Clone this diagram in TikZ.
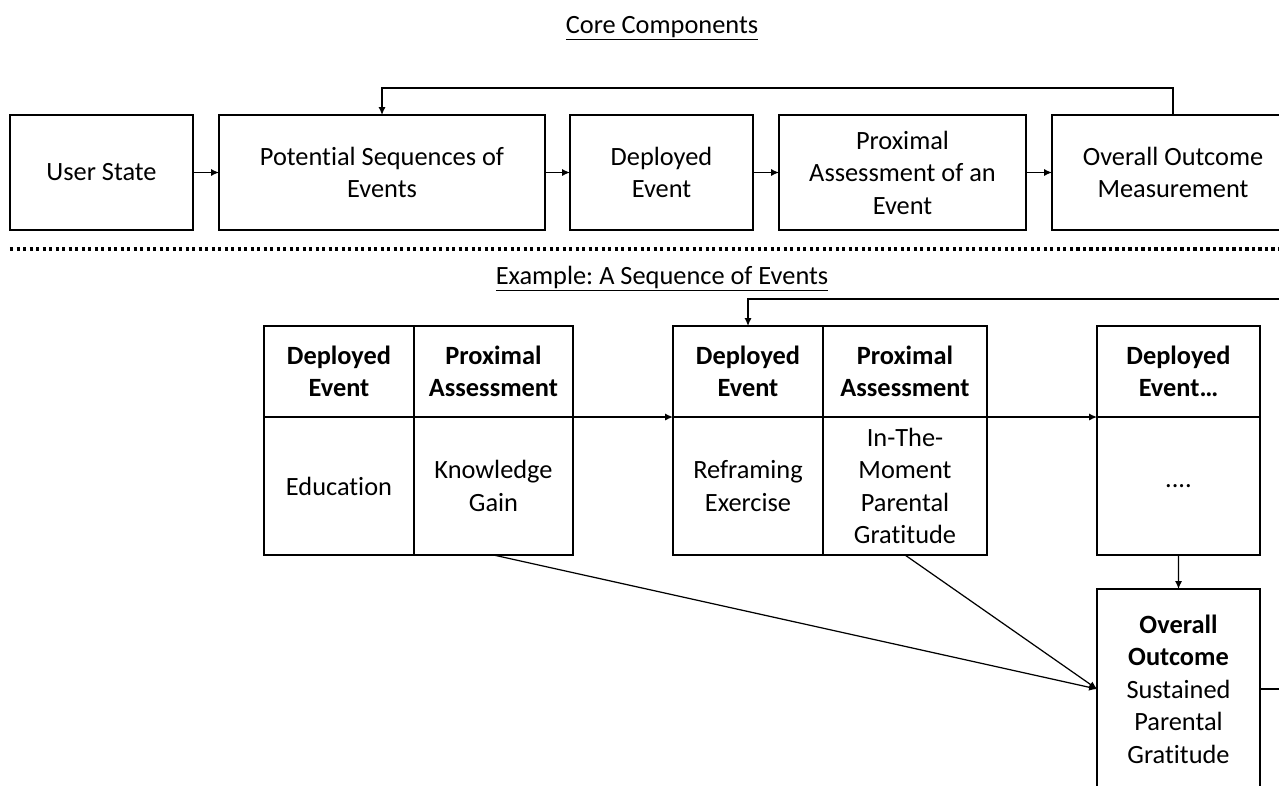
\documentclass[tikz,border=0pt]{standalone}
\usepackage{fontspec}
\setmainfont{Carlito}[RawFeature=-liga]
\usetikzlibrary{arrows.meta}
\frenchspacing

\begin{document}
\begin{tikzpicture}[
  font=\fontsize{15}{18.5}\selectfont,
  box/.style={draw, line width=0.8pt, align=center, inner sep=0pt, outer sep=0pt},
  hd/.style={box, font=\fontsize{15}{18.5}\selectfont\bfseries},
  link/.style={line width=0.7pt, -{Latex[length=4.5pt,width=4pt]}}
]
\useasboundingbox (0,0) rectangle (25.58,-15.7);

\node[anchor=base] (core) at (13.24,-0.66) {\underline{Core Components}};

\node[box, minimum width=3.66cm, minimum height=2.3cm] (usr) at (2.03,-3.45) {User State};
\node[box, minimum width=6.52cm, minimum height=2.3cm] (seq) at (7.64,-3.45) {Potential Sequences of\\Events};
\node[box, minimum width=3.66cm, minimum height=2.3cm] (dep) at (13.23,-3.45) {Deployed\\Event};
\node[box, minimum width=4.94cm, minimum height=2.3cm] (prox) at (18.05,-3.45) {Proximal\\Assessment of an\\Event};
\node[box, minimum width=4.84cm, minimum height=2.3cm] (outc) at (23.46,-3.45) {Overall Outcome\\Measurement};

\foreach \a/\b in {usr/seq, seq/dep, dep/prox, prox/outc}
  \draw[link] (\a) -- (\b);
\coordinate (loop) at (23.46,-1.76);
\draw[link] (outc.north) -- (loop) -| (seq.north);

\draw[line width=1.8pt, dash pattern=on 1.8pt off 1.9pt] (0.2,-4.98) -- (25.58,-4.98);

\node[anchor=base] (exm) at (13.24,-5.68) {\underline{Example: A Sequence of Events}};

% first event
\node[hd, anchor=north west, minimum width=3cm, minimum height=1.82cm] (ev1) at (5.28,-6.52) {Deployed\\Event};
\node[hd, anchor=north west, minimum width=3.18cm, minimum height=1.82cm] (pa1) at (ev1.north east) {Proximal\\Assessment};
\node[box, anchor=north west, minimum width=3cm, minimum height=2.76cm] (ev1b) at (ev1.south west) {Education};
\node[box, anchor=north west, minimum width=3.18cm, minimum height=2.76cm] (pa1b) at (ev1b.north east) {Knowledge\\Gain};

% second event
\node[hd, anchor=north west, minimum width=3cm, minimum height=1.82cm] (ev2) at (13.46,-6.52) {Deployed\\Event};
\node[hd, anchor=north west, minimum width=3.28cm, minimum height=1.82cm] (pa2) at (ev2.north east) {Proximal\\Assessment};
\node[box, anchor=north west, minimum width=3cm, minimum height=2.76cm] (ev2b) at (ev2.south west) {Reframing\\Exercise};
\node[box, anchor=north west, minimum width=3.28cm, minimum height=2.76cm] (pa2b) at (ev2b.north east) {In-The-\\Moment\\Parental\\Gratitude};

% next events
\node[hd, anchor=north west, minimum width=3.26cm, minimum height=1.82cm] (ev3) at (21.94,-6.52) {Deployed\\Event…};
\node[box, anchor=north west, minimum width=3.26cm, minimum height=2.76cm] (ev3b) at (ev3.south west) {....};

\node[box, anchor=north, minimum width=3.26cm, minimum height=4cm] (fin) at (23.57,-11.78)
  {\textbf{Overall}\\\textbf{Outcome}\\Sustained\\Parental\\Gratitude};

\draw[link] (pa1.south east) -- (ev2.south west);
\draw[link] (pa2.south east) -- (ev3.south west);
\draw[link] (ev3b) -- (fin);
\draw[link] (pa1b.south) -- (fin.west);
\draw[link] (pa2b.south) -- (fin.west);
\coordinate (back) at (25.7,-5.98);
\draw[link] (fin.east) -| (back) -| (ev2.north);
\end{tikzpicture}
\end{document}
